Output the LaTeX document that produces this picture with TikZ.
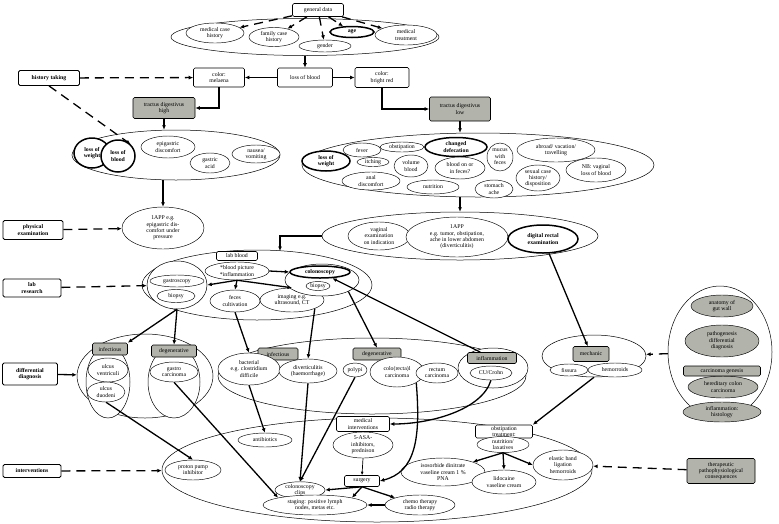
\documentclass[tikz,border=0pt]{standalone}
\usepackage{fontspec}
\setmainfont{Liberation Serif}
\usetikzlibrary{shapes.geometric,arrows.meta,calc}
\definecolor{boxgray}{RGB}{178,179,171}
\begin{document}
\begin{tikzpicture}[x=1pt,y=-1pt,
  every node/.style={font=\fontsize{5.8}{6.4}\selectfont, align=center, inner sep=0pt},
  sz/.style 2 args={minimum width=#1pt, minimum height=#2pt},
  bx/.style={draw, rectangle, rounded corners=1.5pt, fill=white, line width=0.6pt},
  gbx/.style={bx, fill=boxgray},
  el/.style={draw, ellipse, fill=white, line width=0.45pt},
  gel/.style={el, fill=boxgray},
  thk/.style={line width=1.5pt},
  grp/.style={draw, ellipse, fill=white, line width=0.5pt},
  arr/.style={-{Latex[length=4.5pt,width=4pt]}, line width=1.3pt},
  tarr/.style={-{Latex[length=3.5pt,width=3pt]}, line width=0.7pt},
  darr/.style={arr, dash pattern=on 9pt off 6pt}]
\useasboundingbox (0,0) rectangle (779,523);

% ---------- containers ----------
\node[grp,sz={268}{37}] (E1) at (305,37) {};
\node[grp,sz={208}{50}] (E2) at (176,155) {};
\node[grp,sz={352}{64}] (E3) at (478,165) {};
\node[grp,sz={276}{48}] (E4) at (460,236) {};
\node[grp,sz={230}{70}] (E5) at (257,285) {};
\node[grp,sz={136}{84}] (E6) at (145,376) {};
\node[grp,sz={308}{76}] (E7) at (372,376) {};
\node[grp,sz={104}{42}] (Em) at (594,356) {};
\node[grp,sz={104}{132}] (Er) at (720,352) {};
\node[grp,sz={430}{104}] (E8) at (377,470) {};

% ---------- general data ----------
\node[bx,sz={51}{13}] (gd) at (318,10) {general data};
\node[el,sz={58}{20}] (mch) at (215,33) {medical case\\history};
\node[el,sz={50}{19}] (fch) at (274,37) {family case\\history};
\node[el,sz={52}{12}] (gen) at (325,46) {gender};
\node[el,thk,sz={44}{11}] (age) at (352,32) {\textbf{age}};
\node[el,sz={62}{20}] (mt) at (406,35) {medical\\treatment};

% ---------- loss of blood row ----------
\node[bx,line width=0.8pt,sz={61}{15}] (ht) at (49,78) {\textbf{history taking}};
\node[bx,sz={51}{19}] (mel) at (219,77.5) {color:\\melaena};
\node[bx,sz={55}{19}] (lob) at (305,77.5) {loss of blood};
\node[bx,sz={54}{20}] (red) at (382,77.5) {color:\\bright red};
\node[gbx,sz={62}{21}] (tdh) at (164,108) {tractus digestivus\\high};
\node[gbx,sz={61}{24}] (tdl) at (460,109) {tractus digestivus\\low};

% ---------- upper GI symptoms ----------
\node[el,thk,sz={36}{30}] (low1) at (92,153) {\textbf{loss of}\\\textbf{weight}};
\node[el,thk,sz={34}{32}] (lobl) at (118,156) {\textbf{loss of}\\\textbf{blood}};
\node[el,sz={54}{22}] (epi) at (168,147) {epigastric\\discomfort};
\node[el,sz={40}{20}] (ga) at (210,163) {gastric\\acid};
\node[el,sz={48}{18}] (nv) at (256,154) {nausea/\\vomiting};
\node[el,sz={82}{42}] (app1) at (163,228) {1APP e.g.\\epigastric dis-\\comfort under\\pressure};
\node[bx,line width=0.8pt,sz={60}{19}] (pe) at (33,230) {\textbf{physical}\\\textbf{examination}};

% ---------- lower GI symptoms ----------
\node[el,sz={38}{14}] (fev) at (362,150) {fever};
\node[el,sz={44}{10}] (obs) at (402,147) {obstipation};
\node[el,thk,sz={62}{19}] (chd) at (456,147) {\textbf{changed}\\\textbf{defecation}};
\node[el,thk,sz={48}{20}] (low2) at (326,161) {\textbf{loss of}\\\textbf{weight}};
\node[el,sz={32}{9}] (itc) at (373,162) {itching};
\node[el,sz={34}{22}] (vol) at (411,166) {volume\\blood};
\node[el,sz={50}{22}] (bof) at (460,168) {blood on or\\in feces?};
\node[el,sz={26}{28}] (muc) at (500,157) {mucus\\with\\feces};
\node[el,sz={78}{24}] (abr) at (556,150) {abroad/ vacation/\\travelling};
\node[el,sz={60}{24}] (nb) at (596,170) {NB: vaginal\\loss of blood};
\node[el,sz={44}{26}] (sex) at (538,178) {sexual case\\history/\\disposition};
\node[el,sz={58}{18}] (ana1) at (371,181) {anal\\discomfort};
\node[el,sz={52}{14}] (nut1) at (433,187) {nutrition};
\node[el,sz={38}{18}] (sto) at (494,189) {stomach\\ache};

% ---------- examination ----------
\node[el,sz={62}{28}] (vag) at (379,236) {vaginal\\examination\\on indication};
\node[el,sz={102}{40}] (app2) at (457,237) {1APP\\e.g. tumor, obstipation,\\ache in lower abdomen\\(diverticulitis)};
\node[el,thk,sz={70}{28}] (dre) at (543,239) {\textbf{digital rectal}\\\textbf{examination}};
\coordinate (e5in) at (280,251);

% ---------- lab ----------
\node[bx,line width=0.8pt,sz={58}{18}] (lr) at (32,288) {\textbf{lab}\\\textbf{research}};
\node[bx,sz={41}{9}] (lb) at (237,256) {lab blood};
\node[el,sz={64}{18}] (bp) at (237,271) {*blood picture\\*inflammation};
\node[grp,sz={60}{48}] (gsg) at (177,285) {};
\node[el,sz={54}{12}] (gas) at (177,281) {gastroscopy};
\node[el,sz={38}{13}] (bio1) at (176,296) {biopsy};
\node[el,sz={50}{22}] (fec) at (235,301) {feces\\cultivation};
\node[el,sz={64}{24}] (img) at (292,300) {imaging e.g.\\ultrasound, CT};
\node[grp,sz={74}{32}] (csg) at (322,280) {};
\node[el,thk,sz={60}{12}] (col) at (320,272) {\textbf{colonoscopy}};
\node[el,sz={24}{9}] (bio2) at (318,286) {biopsy};

% ---------- differential diagnosis ----------
\node[bx,line width=0.8pt,sz={55}{22}] (dd) at (30,374) {\textbf{differential}\\\textbf{diagnosis}};
\node[grp,sz={44}{72}] (Ei1) at (108,382) {};
\node[grp,sz={52}{72}] (Ed1) at (174,382) {};
\node[gbx,sz={35}{12}] (inf1) at (110,349) {infectious};
\node[gbx,sz={45}{12}] (deg1) at (174,351) {degenerative};
\node[el,sz={40}{24}] (uv) at (108,370) {ulcus\\ventriculi};
\node[el,sz={38}{20}] (ud) at (106,392) {ulcus\\duodeni};
\node[el,sz={48}{20}] (gc) at (174,372) {gastro\\carcinoma};

\node[grp,sz={70}{40}] (Ecu) at (493,368) {};
\node[gbx,sz={40}{12}] (inf2) at (278,354) {infectious};
\node[el,sz={62}{32}] (bac) at (249,369) {bacterial\\e.g. clostridium\\difficile};
\node[el,sz={58}{24}] (div) at (308,371) {diverticulitis\\(haemorrhage)};
\node[gbx,sz={48}{12}] (deg2) at (377,354) {degenerative};
\node[el,sz={24}{14}] (pol) at (355,370) {polypi};
\node[el,sz={54}{30}] (crc) at (397,372) {colo(recta)l\\carcinoma};
\node[el,sz={42}{20}] (rc) at (437,373) {rectum\\carcinoma};
\node[gbx,sz={49}{11}] (infl) at (492,358) {inflammation};
\node[el,sz={42}{14}] (cu) at (491,373) {CU/Crohn};

\node[gbx,sz={36}{15}] (mech) at (591,354) {mechanic};
\node[el,sz={38}{12}] (fis) at (569,370) {fissura};
\node[el,sz={54}{14}] (hem) at (615,370) {hemorroids};

% ---------- background knowledge ----------
\node[gel,sz={62}{22}] (ana) at (722,306) {anatomy of\\gut wall};
\node[gel,sz={74}{32}] (pat) at (722,341) {pathogenesis\\differential\\diagnosis};
\node[gel,sz={70}{22}] (her) at (723,387) {hereditary colon\\carcinoma};
\node[gbx,sz={77}{10}] (cg) at (722,371) {carcinoma genesis};
\node[gel,sz={78}{20}] (ih) at (722,412) {inflammation:\\histology};

% ---------- interventions ----------
\node[bx,line width=0.8pt,sz={58}{13}] (iv) at (32,471) {\textbf{interventions}};
\node[el,sz={56}{20}] (ppi) at (193,470) {proton pump\\inhibitor};
\node[el,sz={54}{14}] (ab) at (265,440) {antibiotics};
\node[bx,sz={53}{15}] (mi) at (363,424) {medical\\interventions};
\node[el,sz={60}{26}] (asa) at (363,445) {5-ASA-\\inhibitors,\\prednison};
\node[bx,sz={35}{11}] (sur) at (362,481) {surgery};
\node[el,sz={50}{16}] (cc) at (300,490) {colonoscopy\\clips};
\node[el,sz={104}{20}] (stg) at (315,505) {staging: positive lymph\\nodes, metas etc.};
\node[el,sz={70}{20}] (che) at (420,505) {chemo therapy\\radio therapy};
\node[bx,sz={57}{13}] (ot) at (504,431.5) {obstipation\\treatment:};
\node[el,sz={52}{16}] (nut) at (503,444.5) {nutrition/\\laxatives};
\node[el,sz={84}{28}] (iso) at (443,472) {isosorbide dinitrate\\vaseline cream 1 \%\\PNA};
\node[el,sz={64}{24}] (lid) at (504,482) {lidocaine\\vaseline cream};
\node[el,sz={60}{30}] (ela) at (563,465) {elastic band\\ligation\\hemorroids};
\node[gbx,sz={68}{25}] (tpc) at (721,471) {therapeutic\\pathophysiological\\consequences};

% ---------- dashed connectors ----------
\draw[darr] (gd) -- (mch);
\draw[darr] (gd) -- (fch);
\draw[darr] (gd) -- (gen);
\draw[darr] (gd) -- (age);
\draw[darr] (gd) -- (mt);
\draw[darr] (ht) -- (mel);
\draw[darr] (ht.south) -- (lobl.north east);
\draw[darr] (pe) -- (app1);
\draw[darr] (lr) -- (gsg);
\draw[darr] (Er) -- (Em);
\draw[darr] (iv) -- (E8);
\draw[darr] (tpc) -- (ela);

% ---------- solid connectors ----------
\draw[arr] (dd) -- (E6);
\draw[arr] (lob.north |- E1.south) -- (lob.north);
\draw[arr] (lob) -- (mel);
\draw[arr] (lob) -- (red);
\draw[arr] (mel.south) |- (tdh.east);
\draw[arr] (red.south) |- (tdl.west);
\draw[arr] (tdh.south) -- (tdh.south |- E2.north);
\draw[arr] (app1.north |- E2.south) -- (app1.north);
\draw[arr] (tdl.south) -- (tdl.south |- E3.north);
\draw[arr] (E4.north |- E3.south) -- (E4.north);
\draw[arr] (E4.west) -| (e5in);
\draw[arr] (dre) -- (mech);
\draw[arr] (bp.east) -- (col.west);
\draw[arr] (bp.south) -- (gsg.east);
\draw[arr] (bp.south) -- (fec.north);
\draw[arr] (bp.south) -- (img.north);
\draw[arr] (gsg.south) -- (inf1.north east);
\draw[arr] (gsg.south) -- (deg1.north);
\draw[arr] (fec.south) -- (bac.north);
\draw[arr] (img.south east) -- (div.north);
\draw[arr] (csg.south east) -- (deg2.north);
\draw[arr] (infl) -- (col);
\draw[arr] (ud.south) -- (ppi.north);
\draw[arr] (gc.south) -- (stg.north west);
\draw[arr] (bac.south) -- (ab.north);
\draw[arr] (div.south) -- (cc.north);
\draw[arr] (pol.south) -- (cc.north);
\draw[arr] (crc.south east) .. controls (421,440) and (415,472) .. (sur.east);
\draw[arr] (cu.south) .. controls (482,410) and (430,424) .. (mi.east);
\draw[arr] (Em.south) -- (ot.north east);
\draw[tarr] (asa.south) -- (sur.north);
\draw[arr] (sur.south) -- (cc.east);
\draw[arr] (sur.south) -- (stg.north east);
\draw[arr] (sur.south) -- (che.north west);
\draw[arr,{Latex[length=4.5pt,width=4pt]}-] (stg.east) -- (che.west);
\draw[arr] (nut.south) -- (iso.north east);
\draw[arr] (nut.south) -- (lid.north);
\draw[arr] (nut.south) -- (ela.west);
\end{tikzpicture}
\end{document}
